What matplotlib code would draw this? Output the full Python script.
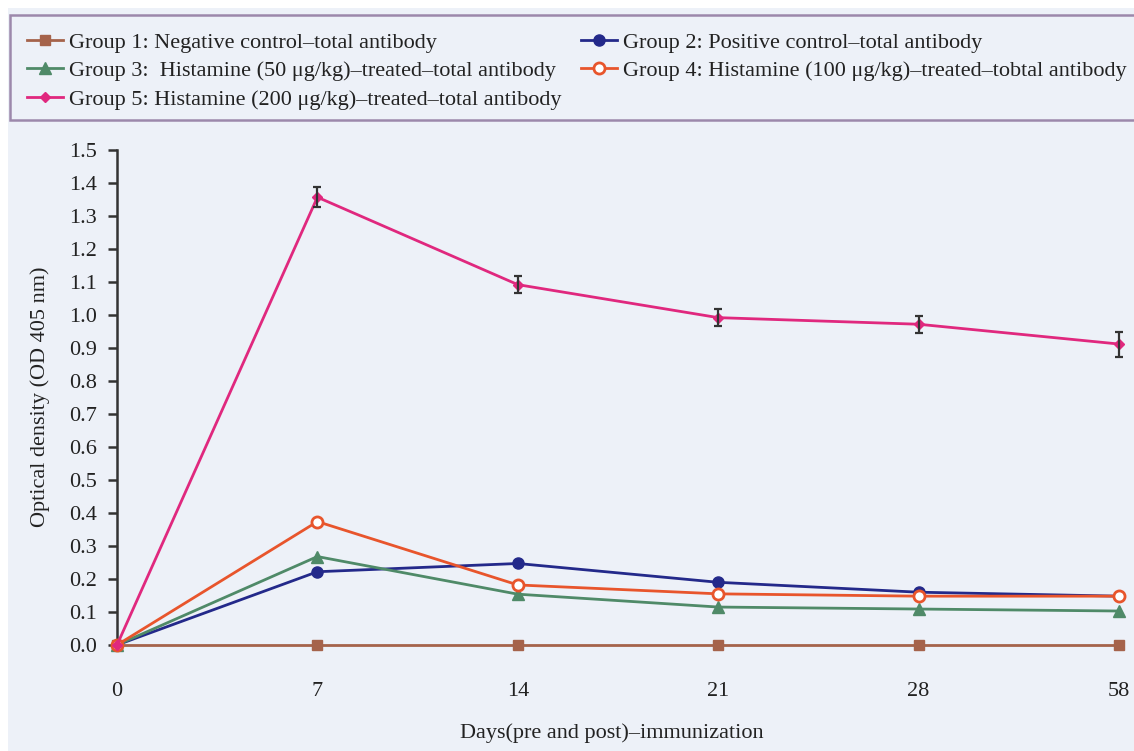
import matplotlib
matplotlib.use("Agg")
import matplotlib.pyplot as plt
from matplotlib.patches import Rectangle

# ---- data ----
days = ["0", "7", "14", "21", "28", "58"]
g1 = [0.0, 0.0, 0.0, 0.0, 0.0, 0.0]
g2 = [0.0, 0.222, 0.247, 0.190, 0.160, 0.148]
g3 = [0.0, 0.268, 0.154, 0.115, 0.109, 0.103]
g4 = [0.0, 0.374, 0.182, 0.155, 0.148, 0.148]
g5 = [0.0, 1.357, 1.092, 0.992, 0.972, 0.912]
g5_err = [0.0, 0.030, 0.026, 0.025, 0.026, 0.038]
labels = [
    "Group 1: Negative control\u2013total antibody",
    "Group 2: Positive control\u2013total antibody",
    "Group 3:  Histamine (50 \u03bcg/kg)\u2013treated\u2013total antibody",
    "Group 4: Histamine (100 \u03bcg/kg)\u2013treated\u2013tobtal antibody",
    "Group 5: Histamine (200 \u03bcg/kg)\u2013treated\u2013total antibody",
]
yticks = [0.0, 0.1, 0.2, 0.3, 0.4, 0.5, 0.6, 0.7, 0.8, 0.9, 1.0, 1.1, 1.2, 1.3, 1.4, 1.5]

# ---- style ----
plt.rcParams['font.family'] = ['Liberation Serif', 'DejaVu Serif']
BG = "#edf1f8"
C1, C2, C3, C4, C5 = "#a5634b", "#23298a", "#4f8a68", "#e8552c", "#e0287e"
FS = 16

W, H = 1134, 751
fig = plt.figure(figsize=(W / 100, H / 100), dpi=100, facecolor="white")
fig.patches.append(Rectangle((8 / W, 0), 1, 1 - 8 / H, transform=fig.transFigure,
                             facecolor=BG, edgecolor="none", zorder=-10))
fig.patches.append(Rectangle((10 / W, 1 - 120 / H), 1.2, 105 / H, transform=fig.transFigure,
                             facecolor=BG, edgecolor="#9c88ab", linewidth=1.8, zorder=-5))

ax = fig.add_axes([117 / W, 1 - 645 / H, (1119 - 117) / W, (645 - 150) / H])
ax.set_facecolor("none")
x = list(range(len(days)))

kw = dict(linewidth=2.0, clip_on=False)
l1, = ax.plot(x, g1, color=C1, marker="s", markersize=7, zorder=3, **kw)
l2, = ax.plot(x, g2, color=C2, marker="o", markersize=8, zorder=4, **kw)
l3, = ax.plot(x, g3, color=C3, marker="^", markersize=8, zorder=4, **kw)
l4, = ax.plot(x, g4, color=C4, marker="o", markersize=8, markerfacecolor="white",
              markeredgewidth=2.0, zorder=5, **kw)
l5, = ax.plot(x, g5, color=C5, marker="D", markersize=5, zorder=6, **kw)
ax.errorbar(x[1:], g5[1:], yerr=g5_err[1:], fmt="none", ecolor="#333333",
            elinewidth=1.6, capsize=3.2, capthick=1.6, zorder=7, clip_on=False)

ax.set_xlim(0, 5)
ax.set_ylim(0, 1.5)
ax.set_xticks(x)
ax.set_xticklabels(days, fontsize=FS)
ax.set_yticks(yticks)
ax.set_yticklabels([f"{v:.1f}" for v in yticks], fontsize=FS)
for s in ["top", "right", "bottom"]:
    ax.spines[s].set_visible(False)
ax.spines["left"].set_linewidth(1.8)
ax.spines["left"].set_color("#333333")
ax.spines["left"].set_zorder(2)
ax.tick_params(axis="y", length=6.5, width=1.8, color="#333333", pad=8, labelcolor="#222222")
ax.tick_params(axis="x", length=0, pad=27, labelcolor="#222222")

fig.text(612 / W, 1 - 733 / H, "Days(pre and post)\u2013immunization", fontsize=FS,
         ha="center", va="center", color="#222222")
fig.text(40 / W, 1 - 397 / H, "Optical density (OD 405 nm)", fontsize=FS,
         ha="center", va="center", rotation=90, color="#222222")

lkw = dict(frameon=False, fontsize=FS, handlelength=1.6, handletextpad=0.27,
           labelspacing=0.36, borderpad=0, borderaxespad=0, loc="upper left")
leg1 = fig.legend([l1, l3, l5], [labels[0], labels[2], labels[4]],
                  bbox_to_anchor=(27 / W, 1 - 32 / H), **lkw)
leg2 = fig.legend([l2, l4], [labels[1], labels[3]],
                  bbox_to_anchor=(581 / W, 1 - 32 / H), **lkw)
for lg in (leg1, leg2):
    for t in lg.get_texts():
        t.set_color("#222222")

fig.savefig("out.png", dpi=100, facecolor="white")
